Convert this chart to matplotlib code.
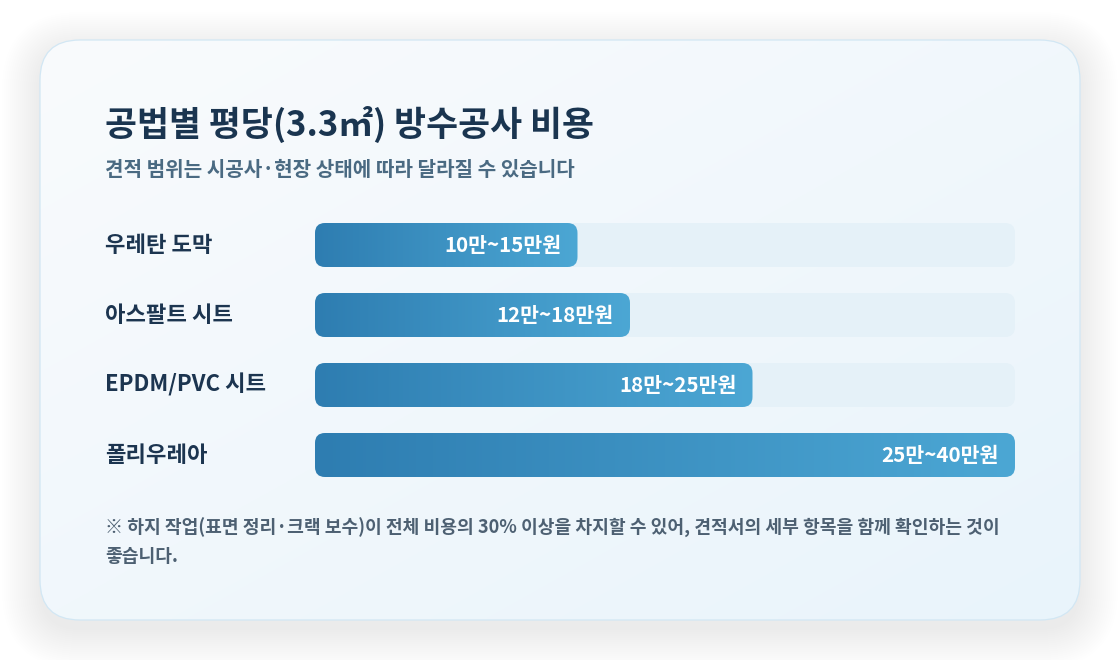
import numpy as np
import matplotlib.pyplot as plt
from matplotlib.patches import FancyBboxPatch
from matplotlib.colors import LinearSegmentedColormap

plt.rcParams['font.family'] = ['Noto Sans CJK KR', 'DejaVu Sans']

title = "공법별 평당(3.3㎡) 방수공사 비용"
subtitle = "견적 범위는 시공사·현장 상태에 따라 달라질 수 있습니다"
methods = ["우레탄 도막", "아스팔트 시트", "EPDM/PVC 시트", "폴리우레아"]
low = [10, 12, 18, 25]
high = [15, 18, 25, 40]
scale_max = 40
note_lines = ["※ 하지 작업(표면 정리·크랙 보수)이 전체 비용의 30% 이상을 차지할 수 있어, 견적서의 세부 항목을 함께 확인하는 것이",
              "좋습니다."]

W, H = 1120, 660
fig = plt.figure(figsize=(W / 100, H / 100), dpi=100)
fig.patch.set_facecolor("white")

# background layer in pixel coordinates
bg = fig.add_axes([0, 0, 1, 1])
bg.set_xlim(0, W)
bg.set_ylim(H, 0)
bg.axis("off")

cx0, cy0, cx1, cy1 = 40, 40, 1080, 620
# soft shadow
for k in range(0, 40, 2):
    sh = FancyBboxPatch((cx0 - k, cy0 - k + 10), cx1 - cx0 + 2 * k, cy1 - cy0 + 2 * k,
                        boxstyle=f"round,pad=0,rounding_size={40 + k}",
                        facecolor="#1a3550", edgecolor="none", alpha=0.0028, zorder=1)
    bg.add_patch(sh)

card = FancyBboxPatch((cx0, cy0), cx1 - cx0, cy1 - cy0,
                      boxstyle="round,pad=0,rounding_size=40",
                      facecolor="none", edgecolor="#d2e7f4", linewidth=0.9, zorder=3)
bg.add_patch(card)
gx, gy = np.meshgrid(np.linspace(0, 1, 200), np.linspace(0, 1, 120))
grad = (gx + gy) / 2
card_cmap = LinearSegmentedColormap.from_list("card", ["#f9fbfd", "#e9f4fb"])
im = bg.imshow(grad, cmap=card_cmap, extent=(cx0, cx1, cy1, cy0), aspect="auto",
               interpolation="bilinear", zorder=2)
im.set_clip_path(card)
bg.set_xlim(0, W)
bg.set_ylim(H, 0)

bg.text(105, 124, title, fontsize=25, fontweight="heavy", color="#1a3550",
        ha="left", va="center", zorder=5)
bg.text(105, 170, subtitle, fontsize=14.5, fontweight="bold", color="#4a6a82",
        ha="left", va="center", zorder=5)

row_y = [245, 315, 385, 455]
for name, yy in zip(methods, row_y):
    bg.text(105, yy, name, fontsize=16, fontweight="bold", color="#1c3550",
            ha="left", va="center", zorder=5)

bg.text(105, 528, note_lines[0], fontsize=13.1, fontweight="bold", color="#4d6072",
        ha="left", va="center", zorder=5)
bg.text(105, 557, note_lines[1], fontsize=13.1, fontweight="bold", color="#4d6072",
        ha="left", va="center", zorder=5)

# bar axes: 700 px wide, rows 70 px apart, bars 44 px tall
ax_left, ax_top, ax_w, ax_h = 315, 223, 700, 254
ax = fig.add_axes([ax_left / W, (H - ax_top - ax_h) / H, ax_w / W, ax_h / H])
ax.axis("off")
ax.patch.set_alpha(0)
bh = 44 / 70
px_x = scale_max / ax_w
px_y = 1 / 70
r = 10 * px_x
asp = px_y / px_x
bar_cmap = LinearSegmentedColormap.from_list("bar", ["#2e7db1", "#4ca7d4"])

for i in range(len(methods)):
    track = FancyBboxPatch((0, i - bh / 2), scale_max, bh,
                           boxstyle=f"round,pad=0,rounding_size={r}", mutation_aspect=asp,
                           facecolor="#e5f1f8", edgecolor="none", zorder=1)
    ax.add_patch(track)
    bar = FancyBboxPatch((0, i - bh / 2), high[i], bh,
                         boxstyle=f"round,pad=0,rounding_size={r}", mutation_aspect=asp,
                         facecolor="none", edgecolor="none", zorder=2)
    ax.add_patch(bar)
    g = ax.imshow(np.linspace(0, 1, 256).reshape(1, -1), cmap=bar_cmap,
                  extent=(0, high[i], i + bh / 2, i - bh / 2), aspect="auto",
                  interpolation="bilinear", zorder=2)
    g.set_clip_path(bar)
    ax.annotate(f"{low[i]}만~{high[i]}만원", xy=(high[i], i), xytext=(-16, 0),
                textcoords="offset pixels", ha="right", va="center",
                fontsize=14.8, fontweight="bold", color="white", zorder=4)

ax.set_xlim(0, scale_max)
ax.set_ylim(3 + 22 / 70, -22 / 70)

fig.savefig("out.png", dpi=100, facecolor="white")
